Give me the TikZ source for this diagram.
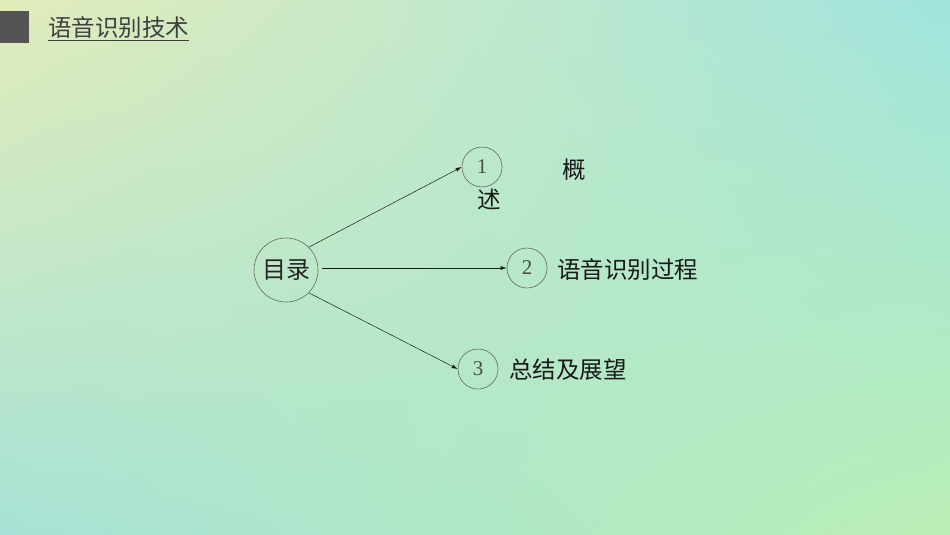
\documentclass[tikz,border=0pt]{standalone}
\usepackage{fontspec}
\newfontfamily\cjk{Noto Sans CJK SC}
\setmainfont{Liberation Serif}
\usetikzlibrary{arrows.meta,shadings}
\definecolor{bgul}{RGB}{226,236,186}
\definecolor{bgur}{RGB}{160,228,222}
\definecolor{bgll}{RGB}{166,226,214}
\definecolor{bglr}{RGB}{186,238,182}
\begin{document}
\begin{tikzpicture}[x=1pt,y=-1pt,
  numcirc/.style={circle,draw=black!60,line width=0.6pt,minimum size=40pt,inner sep=0pt,font=\fontsize{21}{21}\selectfont,text=black!70},
  maincirc/.style={circle,draw=black!60,line width=0.6pt,minimum size=64pt,inner sep=0pt,font=\cjk\fontsize{24}{24}\selectfont,text=black!85},
  item/.style={font=\cjk\fontsize{23.5}{23.5}\selectfont,text=black!90,inner sep=0pt},
  conn/.style={-{Latex[length=6pt,width=4pt]},line width=0.5pt,black!90}]
\useasboundingbox (0,0) rectangle (950,535);
\shade[upper left=bgul,upper right=bgur,lower left=bgll,lower right=bglr]
  (0,0) rectangle (950,535);
\fill[black!67] (0,11) rectangle (29,43);
\node[item,anchor=west,text=black!75] (title) at (48,29) {\underline{语音识别技术}};
\node[maincirc] (m) at (286,270) {目录};
\node[numcirc] (c1) at (482,167) {1};
\node[numcirc] (c2) at (527,268) {2};
\node[numcirc] (c3) at (478,369) {3};
\node[item] (g1) at (574,170) {概};
\node[item] (g2) at (489,199) {述};
\node[item,anchor=west] (t2) at (557,270) {语音识别过程};
\node[item,anchor=west] (t3) at (509,370) {总结及展望};
\draw[conn] (m.45) -- (c1.west);
\draw[conn] ([xshift=4pt]m.east |- c2.west) -- (c2.west);
\draw[conn] (m.-45) -- (c3.west);
\end{tikzpicture}
\end{document}
